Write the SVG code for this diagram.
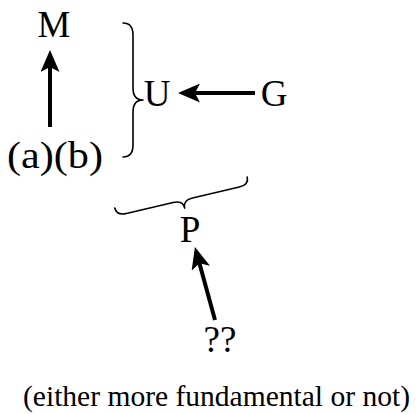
<svg xmlns="http://www.w3.org/2000/svg" width="417" height="414" viewBox="0 0 417 414">
<style>
.lbl{font-family:"Liberation Serif","DejaVu Serif",serif;font-size:37px;fill:#000;text-anchor:middle}
.note{font-family:"Liberation Serif","DejaVu Serif",serif;font-size:30px;fill:#000}
.arr{stroke:#000;stroke-width:4;fill:none;marker-end:url(#head)}
.brace{stroke:#000;stroke-width:1.6;fill:none;stroke-linecap:round;stroke-linejoin:round}
</style>
<defs>
<marker id="head" viewBox="0 0 22 19" refX="9" refY="9.5" markerWidth="22" markerHeight="19" markerUnits="userSpaceOnUse" orient="auto">
<path d="M0,0 L22,9.5 L0,19 L5,9.5 Z" fill="#000"/>
</marker>
</defs>
<rect width="417" height="414" fill="#fff"/>
<g id="node-M"><text class="lbl" x="54" y="37">M</text></g>
<g id="node-ab"><text class="lbl" x="55" y="168" textLength="96" lengthAdjust="spacingAndGlyphs">(a)(b)</text></g>
<g id="node-U"><text class="lbl" x="157" y="106">U</text></g>
<g id="node-G"><text class="lbl" x="274" y="106">G</text></g>
<g id="node-P"><text class="lbl" x="190" y="242">P</text></g>
<g id="node-qq"><text class="lbl" x="220" y="352">??</text></g>
<g id="node-note"><text class="note" x="23" y="406" textLength="387" lengthAdjust="spacingAndGlyphs">(either more fundamental or not)</text></g>
<g id="braces">
<path class="brace" d="M123,23 Q133,23 133,35 L133,88 Q133,100 143,100 Q133,100 133,112 L133,145 Q133,157 123,157"/>
<g transform="translate(181,192.5) rotate(-13.2)">
<path class="brace" d="M-68,0 Q-68,8 -58,8 L-10,8 Q0,8 0,16 Q0,8 10,8 L58,8 Q68,8 68,0"/>
</g>
</g>
<g id="connectors">
<line class="arr" x1="50" y1="127" x2="50" y2="63"/>
<line class="arr" x1="255" y1="93" x2="191" y2="93"/>
<line class="arr" x1="215" y1="320" x2="198.4" y2="259.5"/>
</g>
</svg>
